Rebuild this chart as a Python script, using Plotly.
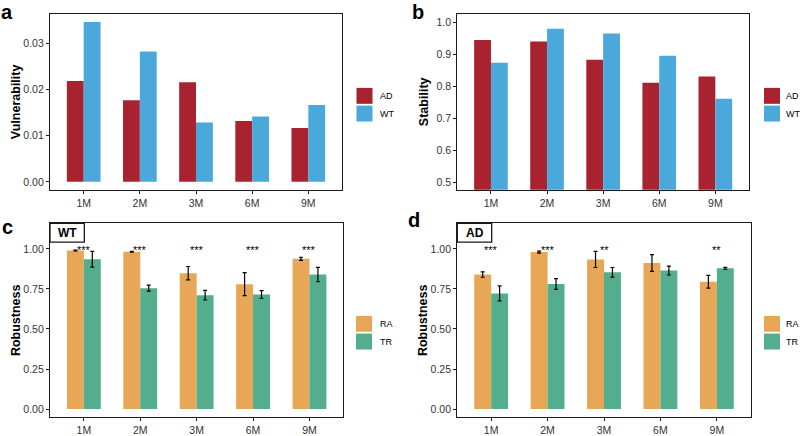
import plotly.graph_objects as go

# ---------------- data ----------------
categories = ["1M", "2M", "3M", "6M", "9M"]

vuln_AD = [0.0219, 0.0177, 0.0216, 0.0132, 0.0117]
vuln_WT = [0.0347, 0.0283, 0.0129, 0.0142, 0.0167]

stab_AD = [0.945, 0.940, 0.883, 0.811, 0.831]
stab_WT = [0.874, 0.980, 0.965, 0.896, 0.761]

wt_RA = [0.990, 0.982, 0.848, 0.780, 0.938]
wt_RA_err = [0.003, 0.002, 0.042, 0.072, 0.010]
wt_TR = [0.935, 0.755, 0.711, 0.716, 0.840]
wt_TR_err = [0.049, 0.019, 0.030, 0.024, 0.045]
wt_stars = ["***", "***", "***", "***", "***"]

ad_RA = [0.840, 0.980, 0.934, 0.912, 0.795]
ad_RA_err = [0.017, 0.006, 0.050, 0.052, 0.040]
ad_TR = [0.722, 0.781, 0.854, 0.865, 0.879]
ad_TR_err = [0.047, 0.034, 0.030, 0.028, 0.006]
ad_stars = ["***", "***", "**", "", "**"]

group_names_ab = ["AD", "WT"]
group_names_cd = ["RA", "TR"]

# ---------------- style ----------------
W, H = 800, 436
C_AD, C_WT = "#A8232F", "#4BA8DA"
C_RA, C_TR = "#E8A756", "#52AE8D"
FONT = "Liberation Sans, Arial, sans-serif"
LINE = "#1a1a1a"
TICKC = "#333333"


def px(x):
    return x / W


def py(y):
    return 1 - y / H


fig = go.Figure()

panels = {
    # name: (x0, x1, y_top, y_bottom)
    "1": (50, 342, 14.5, 190.7),
    "2": (457.3, 749, 14.5, 190.7),
    "3": (50, 343.3, 224.3, 419),
    "4": (457.3, 750.7, 224.3, 419),
}

yranges = {
    "1": [-0.00173, 0.03634],
    "2": [0.476, 1.025],
    "3": [-0.05, 1.16],
    "4": [-0.05, 1.16],
}
ytick = {
    "1": ([0, 0.01, 0.02, 0.03], ["0.00", "0.01", "0.02", "0.03"]),
    "2": ([0.5, 0.6, 0.7, 0.8, 0.9, 1.0], ["0.5", "0.6", "0.7", "0.8", "0.9", "1.0"]),
    "3": ([0, 0.25, 0.5, 0.75, 1.0], ["0.00", "0.25", "0.50", "0.75", "1.00"]),
    "4": ([0, 0.25, 0.5, 0.75, 1.0], ["0.00", "0.25", "0.50", "0.75", "1.00"]),
}

layout_axes = {}
for k, (x0, x1, yt, yb) in panels.items():
    xa = "xaxis" if k == "1" else f"xaxis{k}"
    ya = "yaxis" if k == "1" else f"yaxis{k}"
    anchor_x = "x" if k == "1" else f"x{k}"
    anchor_y = "y" if k == "1" else f"y{k}"
    layout_axes[xa] = dict(
        domain=[px(x0), px(x1)], anchor=anchor_y, type="category",
        range=[-0.6, 4.6], showline=True, mirror=True, linecolor=LINE,
        linewidth=1.3, ticks="outside", ticklen=3, tickcolor=LINE,
        tickwidth=1, showgrid=False, zeroline=False,
        tickfont=dict(family=FONT, size=10.5, color=TICKC),
        fixedrange=True,
    )
    layout_axes[ya] = dict(
        domain=[py(yb), py(yt)], anchor=anchor_x, range=yranges[k],
        tickvals=ytick[k][0], ticktext=ytick[k][1],
        showline=True, mirror=True, linecolor=LINE, linewidth=1.3,
        ticks="outside", ticklen=3, tickcolor=LINE, tickwidth=1,
        showgrid=False, zeroline=False,
        tickfont=dict(family=FONT, size=10.5, color=TICKC),
        fixedrange=True,
    )


def add_bar(k, name, vals, color, err=None):
    xr = "x" if k == "1" else f"x{k}"
    yr = "y" if k == "1" else f"y{k}"
    kw = {}
    if err is not None:
        kw["error_y"] = dict(type="data", array=err, visible=True,
                             color="black", thickness=1.2, width=2)
    fig.add_trace(go.Bar(x=categories, y=vals, name=name, marker_color=color,
                         marker_line_width=0, xaxis=xr, yaxis=yr,
                         showlegend=False, **kw))


add_bar("1", group_names_ab[0], vuln_AD, C_AD)
add_bar("1", group_names_ab[1], vuln_WT, C_WT)
add_bar("2", group_names_ab[0], stab_AD, C_AD)
add_bar("2", group_names_ab[1], stab_WT, C_WT)
add_bar("3", group_names_cd[0], wt_RA, C_RA, wt_RA_err)
add_bar("3", group_names_cd[1], wt_TR, C_TR, wt_TR_err)
add_bar("4", group_names_cd[0], ad_RA, C_RA, ad_RA_err)
add_bar("4", group_names_cd[1], ad_TR, C_TR, ad_TR_err)

annotations = []
shapes = []

# significance stars
for k, stars in (("3", wt_stars), ("4", ad_stars)):
    for c, s in zip(categories, stars):
        if s:
            annotations.append(dict(
                x=c, y=0.995, xref=f"x{k}", yref=f"y{k}", text=s,
                showarrow=False, yanchor="middle", xanchor="center",
                font=dict(family=FONT, size=11, color="black")))

# axis titles
for xpos, ycen, txt in ((16, 102.6, "Vulnerability"), (424, 102.6, "Stability"),
                        (16, 321.6, "Robustness"), (423, 321.6, "Robustness")):
    annotations.append(dict(
        x=px(xpos), y=py(ycen), xref="paper", yref="paper", text=f"<b>{txt}</b>",
        textangle=-90, showarrow=False, xanchor="center", yanchor="middle",
        font=dict(family=FONT, size=12.5, color="black")))

# panel letters
for xpos, ypos, txt in ((6.5, 12, "a"), (418, 12, "b"), (7, 228, "c"), (414, 221, "d")):
    annotations.append(dict(
        x=px(xpos), y=py(ypos), xref="paper", yref="paper", text=f"<b>{txt}</b>",
        showarrow=False, xanchor="center", yanchor="middle",
        font=dict(family=FONT, size=20, color="black")))

# tag boxes
for (x0, x1, y0, y1, txt) in ((50, 84.3, 224.3, 243.3, "WT"), (457.3, 491.7, 224.3, 243.3, "AD")):
    shapes.append(dict(type="rect", xref="paper", yref="paper",
                       x0=px(x0), x1=px(x1), y0=py(y1), y1=py(y0),
                       line=dict(color=LINE, width=1.3), fillcolor="white"))
    annotations.append(dict(
        x=px((x0 + x1) / 2), y=py((y0 + y1) / 2), xref="paper", yref="paper",
        text=f"<b>{txt}</b>", showarrow=False, xanchor="center", yanchor="middle",
        font=dict(family=FONT, size=12, color="black")))

# legends (key squares + labels)
legends = [
    (356.5, 88.3, group_names_ab, (C_AD, C_WT), 21.5),
    (764, 88.3, group_names_ab, (C_AD, C_WT), 20),
    (356, 317.3, group_names_cd, (C_RA, C_TR), 21.5),
    (764, 317.3, group_names_cd, (C_RA, C_TR), 20),
]
for (lx, ly, names, cols, gap) in legends:
    for i, (nm, col) in enumerate(zip(names, cols)):
        y0 = ly + i * 17.8
        shapes.append(dict(type="rect", xref="paper", yref="paper",
                           x0=px(lx), x1=px(lx + 16), y0=py(y0 + 16), y1=py(y0),
                           line=dict(width=0), fillcolor=col))
        annotations.append(dict(
            x=px(lx + gap), y=py(y0 + 8), xref="paper", yref="paper", text=nm,
            showarrow=False, xanchor="left", yanchor="middle",
            font=dict(family=FONT, size=9, color="black")))

fig.update_layout(
    width=W, height=H, margin=dict(l=0, r=0, t=0, b=0),
    paper_bgcolor="white", plot_bgcolor="white",
    barmode="group", bargap=0.4, bargroupgap=0,
    showlegend=False, annotations=annotations, shapes=shapes,
    font=dict(family=FONT),
    **layout_axes,
)

fig.write_html(
    "out.html",
    config={"displayModeBar": False},
    post_script="document.body.style.margin='0';document.body.style.overflow='hidden';",
)
